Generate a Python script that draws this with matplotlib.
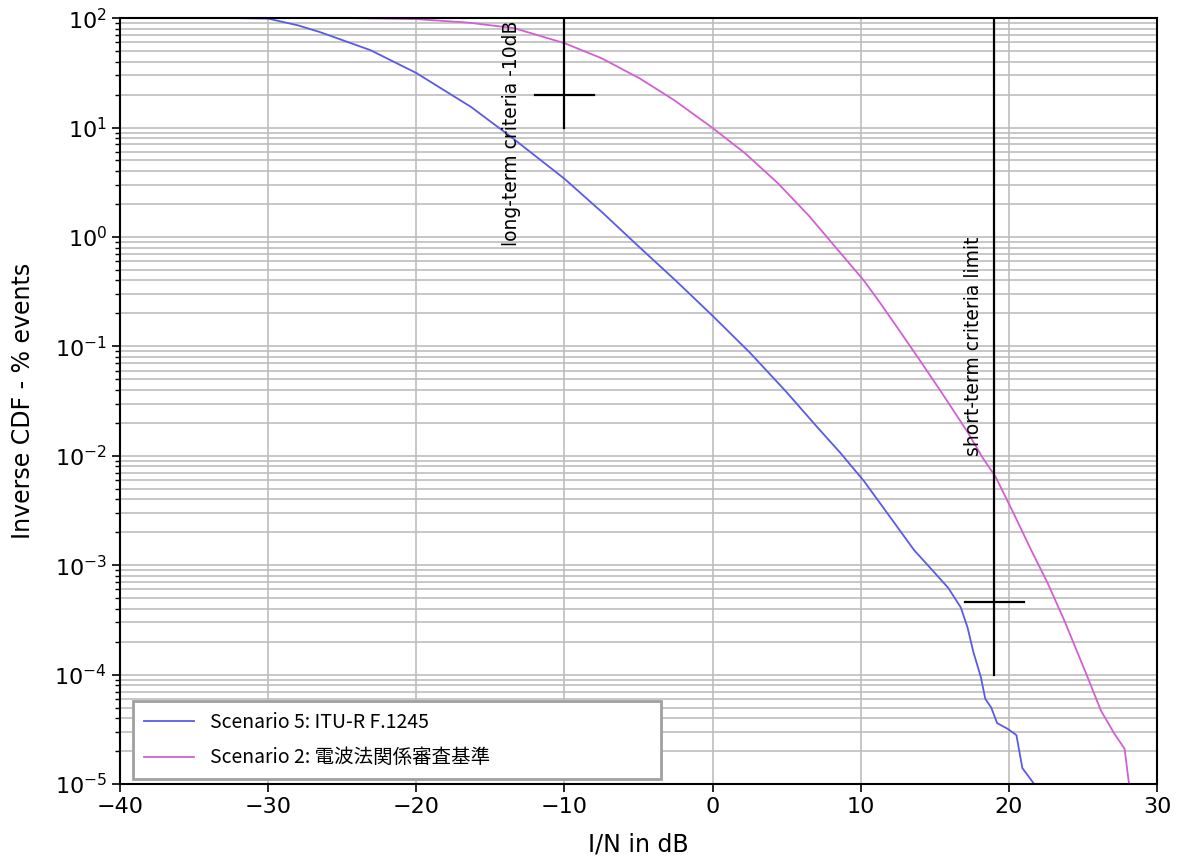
import matplotlib
matplotlib.use("Agg")
import matplotlib.pyplot as plt

# Scenario 5 (blue) - I/N in dB vs inverse CDF (% events)
blue_x = [-32, -30, -28, -26.5, -23.1, -20, -16.3, -13.6, -10, -7.5, -5, -2.5, 0, 2.5, 5,
          7.1, 8.6, 10.2, 12.5, 13.6, 14.7, 15.9, 16.75, 17.2, 17.6, 18.1, 18.4, 18.8, 19.2,
          19.9, 20.5, 20.9, 21.7]
blue_y = [100, 99, 86, 74.5, 51, 31.5, 15.4, 8.2, 3.4, 1.7, 0.82, 0.40, 0.19, 0.088, 0.038,
          0.018, 0.0107, 0.0059, 0.0022, 1.37e-3, 9.4e-4, 6.2e-4, 4.1e-4, 2.7e-4, 1.6e-4,
          9.5e-5, 6e-5, 5e-5, 3.6e-5, 3.2e-5, 2.8e-5, 1.4e-5, 1.0e-5]

# Scenario 2 (magenta)
mag_x = [-24, -20, -16.5, -13.4, -10, -7.5, -4.9, -2.6, 0, 2.2, 4.4, 6.5, 8.6, 10.2, 11.3,
         12.5, 14.0, 15.5, 17.2, 18.2, 19.1, 20.3, 21.5, 22.6, 23.7, 25.3, 26.2, 27.1, 27.8, 28.1]
mag_y = [100, 98, 91, 81, 59, 43, 28, 17.8, 9.9, 5.8, 3.1, 1.56, 0.72, 0.40, 0.25,
         0.146, 0.074, 0.037, 0.0165, 0.0097, 0.0064, 0.003, 1.37e-3, 6.9e-4, 3.2e-4,
         9.5e-5, 4.7e-5, 2.9e-5, 2.1e-5, 1.0e-5]

labels = ["Scenario 5: ITU-R F.1245", "Scenario 2: 電波法関係審査基準"]

# criteria markers
long_x, long_ymin, long_ymax, long_yc, long_hx = -10, 10, 100, 20, (-12, -8)
short_x, short_ymin, short_ymax, short_yc, short_hx = 19, 1e-4, 100, 4.6e-4, (17, 21)

plt.rcParams['font.family'] = ['DejaVu Sans', 'Noto Sans CJK JP']

fig = plt.figure(figsize=(11.82, 8.63), dpi=100)
ax = fig.add_axes([0.1015, 0.0915, 0.8775, 0.8875])

ax.plot(blue_x, blue_y, color='#5a5ae8', lw=1.3, label=labels[0])
ax.plot(mag_x, mag_y, color='#d35fd3', lw=1.3, label=labels[1])

ax.plot([long_x, long_x], [long_ymin, long_ymax], color='black', lw=1.6)
ax.plot(list(long_hx), [long_yc, long_yc], color='black', lw=1.6)
ax.plot([short_x, short_x], [short_ymin, short_ymax], color='black', lw=1.6)
ax.plot(list(short_hx), [short_yc, short_yc], color='black', lw=1.6)

ax.text(-13.6, 95, "long-term criteria -10dB", rotation=90, ha='center', va='top', fontsize=13.5)
ax.text(17.6, 1.0, "short-term criteria limit", rotation=90, ha='center', va='top', fontsize=13.5)

ax.set_yscale('log')
ax.set_xlim(-40, 30)
ax.set_ylim(1e-5, 1e2)
ax.grid(True, which='both', color='#bdbdbd', lw=1.2)
ax.set_axisbelow(True)
ax.tick_params(labelsize=16, length=6, width=1.2)
ax.tick_params(which='minor', length=3.5, width=1.0)
for s in ax.spines.values():
    s.set_linewidth(1.5)

ax.set_xlabel("I/N in dB", fontsize=17, labelpad=11)
ax.set_ylabel("Inverse CDF - % events", fontsize=17, labelpad=14)

leg = ax.legend(loc='lower left', bbox_to_anchor=(0.0125, 0.0065, 0.509, 0.106), mode='expand',
                prop={'family': 'Noto Sans CJK JP', 'size': 14}, fancybox=False,
                framealpha=1, edgecolor='#a0a0a0', borderaxespad=0, handlelength=2.6,
                labelspacing=0.75, borderpad=0.55)
leg.get_frame().set_linewidth(2)

fig.savefig("out.png", dpi=100)
